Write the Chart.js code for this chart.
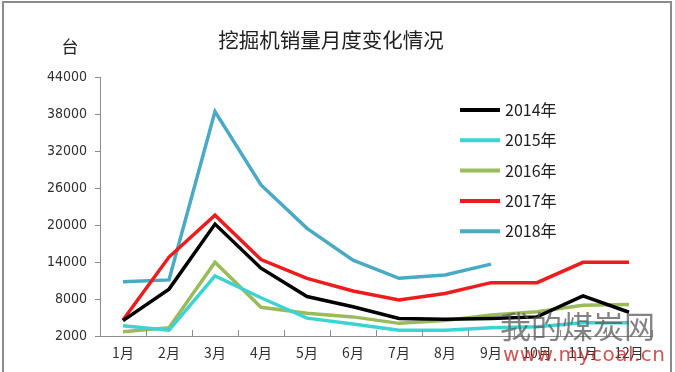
<!DOCTYPE html>
<html>
<head>
<meta charset="utf-8">
<script src="https://cdn.jsdelivr.net/npm/chart.js@4/dist/chart.umd.min.js"></script>
<style>
  html, body { margin: 0; padding: 0; background: #fff; }
  #wrap { position: relative; width: 675px; height: 372px; }
  #wm1 { position: absolute; left: 500px; top: 306px; font: 31px/38px "Noto Sans CJK SC"; color: rgba(90,90,90,0.75); }
  #wm2 { position: absolute; left: 503px; top: 342px; font: 20px/24px "DejaVu Sans"; color: rgba(200,40,40,0.8); letter-spacing: 0.5px; }
</style>
</head>
<body>
<div id="wrap">
  <canvas id="chart" width="675" height="372"></canvas>
  <div id="wm1">我的煤炭网</div>
  <div id="wm2">www.mycoal.cn</div>
</div>
<script>
// data
const months = ["1月", "2月", "3月", "4月", "5月", "6月", "7月", "8月", "9月", "10月", "11月", "12月"];
const y2014 = [4500, 9600, 20150, 13000, 8400, 6750, 4850, 4700, 4850, 5100, 8500, 5850];
const y2015 = [3650, 2950, 11750, 8200, 4900, 3950, 2950, 2950, 3350, 3500, 4150, 4150];
const y2016 = [2700, 3350, 13950, 6650, 5700, 5100, 4050, 4500, 5400, 5950, 7000, 7100];
const y2017 = [4600, 14800, 21600, 14400, 11350, 9300, 7850, 8900, 10650, 10650, 13950, 13950];
const y2018 = [10800, 11100, 38400, 26500, 19450, 14300, 11350, 11900, 13650];
const yTicks = [2000, 8000, 14000, 20000, 26000, 32000, 38000, 44000];

const seriesNames = ["2014年", "2015年", "2016年", "2017年", "2018年"];
const seriesColors = ["#000000", "#3ed3d3", "#9bbb59", "#ee1c1c", "#4aa9c4"];
const seriesData = [y2014, y2015, y2016, y2017, y2018];

const cjk = '"Noto Sans CJK SC", "DejaVu Sans", sans-serif';

// frame, title, unit label, legend, inside x ticks
const decor = {
    id: 'decor',
    beforeDraw(chart) {
        const ctx = chart.ctx;
        ctx.save();
        ctx.strokeStyle = '#8c8c8c';
        ctx.lineWidth = 2;
        ctx.strokeRect(3, 2, 668, 380);
        ctx.restore();
    },
    afterDraw(chart) {
        const ctx = chart.ctx;
        const area = chart.chartArea;
        ctx.save();
        ctx.fillStyle = '#202020';
        ctx.font = '20.5px ' + cjk;
        ctx.textAlign = 'center';
        ctx.textBaseline = 'middle';
        ctx.fillText('挖掘机销量月度变化情况', 331, 40);
        ctx.font = '17px ' + cjk;
        ctx.fillText('台', 70, 47);

        // inside tick marks between categories
        ctx.strokeStyle = '#8c8c8c';
        ctx.lineWidth = 1;
        const step = (area.right - area.left) / months.length;
        for (let i = 0; i <= months.length; i++) {
            const x = Math.round(area.left + i * step) + 0.5;
            ctx.beginPath();
            ctx.moveTo(x, area.bottom);
            ctx.lineTo(x, area.bottom - 6);
            ctx.stroke();
        }

        // legend
        ctx.textAlign = 'left';
        ctx.font = '16px ' + cjk;
        chart.data.datasets.forEach((ds, i) => {
            const y = 110 + i * 30.3;
            ctx.strokeStyle = ds.borderColor;
            ctx.lineWidth = 4;
            ctx.beginPath();
            ctx.moveTo(460, y);
            ctx.lineTo(500, y);
            ctx.stroke();
            ctx.fillStyle = '#202020';
            ctx.fillText(ds.label, 505, y);
        });
        ctx.restore();
    }
};

new Chart(document.getElementById('chart'), {
    type: 'line',
    data: {
        labels: months,
        datasets: seriesNames.map((name, i) => ({
            label: name,
            data: seriesData[i],
            borderColor: seriesColors[i],
            backgroundColor: seriesColors[i],
            borderWidth: 3.5,
            pointRadius: 0,
            tension: 0,
            fill: false
        }))
    },
    options: {
        responsive: false,
        animation: false,
        layout: { padding: { top: 77, right: 23, left: 0, bottom: 0 } },
        plugins: {
            legend: { display: false },
            title: { display: false },
            tooltip: { enabled: false }
        },
        scales: {
            x: {
                offset: true,
                grid: { display: false, drawTicks: false },
                border: { display: true, color: '#8c8c8c', width: 1 },
                ticks: { color: '#303030', font: { size: 14, family: cjk }, padding: 8, maxRotation: 0, autoSkip: false },
                afterFit(scale) { scale.height = 36; }
            },
            y: {
                min: 2000,
                max: 44000,
                afterBuildTicks(scale) { scale.ticks = yTicks.map(v => ({ value: v })); },
                grid: { drawOnChartArea: false, drawTicks: true, tickLength: 5, color: '#8c8c8c' },
                border: { display: true, color: '#8c8c8c', width: 1 },
                ticks: {
                    color: '#303030',
                    font: { size: 14, family: '"DejaVu Sans Condensed", "Liberation Sans", sans-serif' },
                    padding: 8,
                    callback: v => String(v)
                },
                afterFit(scale) { scale.width = 100; }
            }
        }
    },
    plugins: [decor]
});
</script>
</body>
</html>
